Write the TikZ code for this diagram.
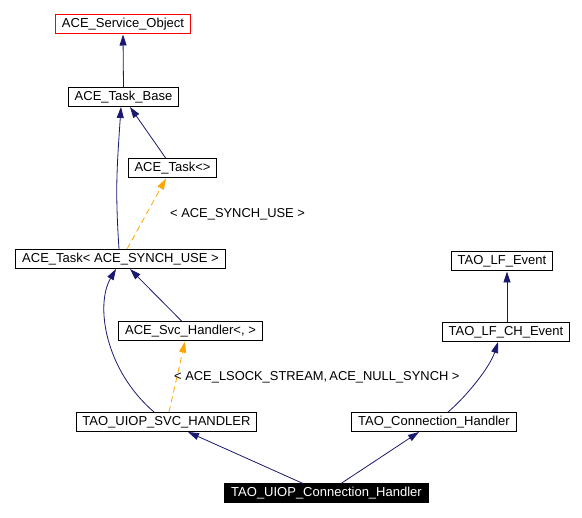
\documentclass[tikz,border=0pt]{standalone}
\usepackage{fontspec}
\setmainfont{Liberation Sans}
\usetikzlibrary{arrows.meta}
\definecolor{edgeblue}{HTML}{191970}
\definecolor{tplorange}{HTML}{FFA500}
\newcommand{\setpoints}{
    \coordinate (p0) at (123,24.5);
    \coordinate (p1) at (123.5,97);
    \coordinate (p2) at (172.5,168.5);
    \coordinate (p3) at (120.5,259);
    \coordinate (p4) at (190.5,331.5);
    \coordinate (p5) at (166.5,422);

    \coordinate (p6) at (502,261.5);
    \coordinate (p7) at (506,332);
    \coordinate (p8) at (434,422);
    \coordinate (p9) at (326.5,493.5);
}
\tikzset{
    cls/.style={draw=black,fill=white,line width=1pt,minimum height=19pt,
        inner xsep=6.4pt,inner ysep=0pt,font=\fontsize{13}{15}\selectfont},
    inh/.style={edgeblue,line width=0.8pt,-{Triangle[length=11pt,width=7pt]}},
    tpl/.style={tplorange,line width=0.8pt,dashed,dash pattern=on 6pt off 4pt,
        -{Triangle[length=11pt,width=7pt]}},
    tpllabel/.style={anchor=west,inner sep=0pt,font=\fontsize{12.9}{15}\selectfont}
}
\begin{document}
\begin{tikzpicture}[x=1pt,y=-1pt]
    \useasboundingbox (0,0) rectangle (582,518);
    \setpoints;

    \node[cls,draw=red] (svcobj) at (p0) {ACE\_Service\_Object};
    \node[cls] (taskbase) at (p1) {ACE\_Task\_Base};
    \node[cls] (tasktpl) at (p2) {ACE\_Task<>};
    \node[cls] (tasksynch) at (p3) {ACE\_Task< ACE\_SYNCH\_USE >};
    \node[cls] (svchtpl) at (p4) {ACE\_Svc\_Handler<, >};
    \node[cls] (uiopsvc) at (p5) {TAO\_UIOP\_SVC\_HANDLER};

    \node[cls] (lfev) at (p6) {TAO\_LF\_Event};
    \node[cls] (lfch) at (p7) {TAO\_LF\_CH\_Event};
    \node[cls] (connh) at (p8) {TAO\_Connection\_Handler};
    \node[cls,fill=black,text=white] (uiopch) at (p9) {TAO\_UIOP\_Connection\_Handler};

    % ACE side
    \draw[inh] (taskbase.north) -- (svcobj.south);
    \draw[inh] ([xshift=-6.5pt]tasktpl.north) -- ([xshift=6.5pt]taskbase.south);
    \draw[inh] ([xshift=-1.5pt]tasksynch.north) .. controls +(-4,-60) and +(-4,60) .. ([xshift=-2.5pt]taskbase.south);
    \draw[tpl] ([xshift=6.5pt]tasksynch.north) -- ([xshift=-6.5pt]tasktpl.south);
    \node[tpllabel] (synchlabel) at (170,214) {< ACE\_SYNCH\_USE >};

    \draw[inh] ([xshift=-8.5pt]svchtpl.north) -- ([xshift=9.5pt]tasksynch.south);
    \draw[inh] ([xshift=-12.5pt]uiopsvc.north) .. controls +(-49,-42) and +(-21,36) .. ([xshift=-4.5pt]tasksynch.south);
    \draw[tpl] ([xshift=2.5pt]uiopsvc.north) -- ([xshift=-5.5pt]svchtpl.south);
    \node[tpllabel] (lsocklabel) at (174,377) {< ACE\_LSOCK\_STREAM,\,ACE\_NULL\_SYNCH >};

    % TAO side
    \draw[inh] ([xshift=1pt]lfch.north) -- ([xshift=5pt]lfev.south);
    \draw[inh] ([xshift=14pt]connh.north) .. controls +(18,-15) and +(-8,25) .. ([xshift=-8pt]lfch.south);

    \draw[inh] ([xshift=-23.5pt]uiopch.north) -- ([xshift=21.5pt]uiopsvc.south);
    \draw[inh] ([xshift=14.5pt]uiopch.north) -- ([xshift=-15pt]connh.south);
\end{tikzpicture}
\end{document}
